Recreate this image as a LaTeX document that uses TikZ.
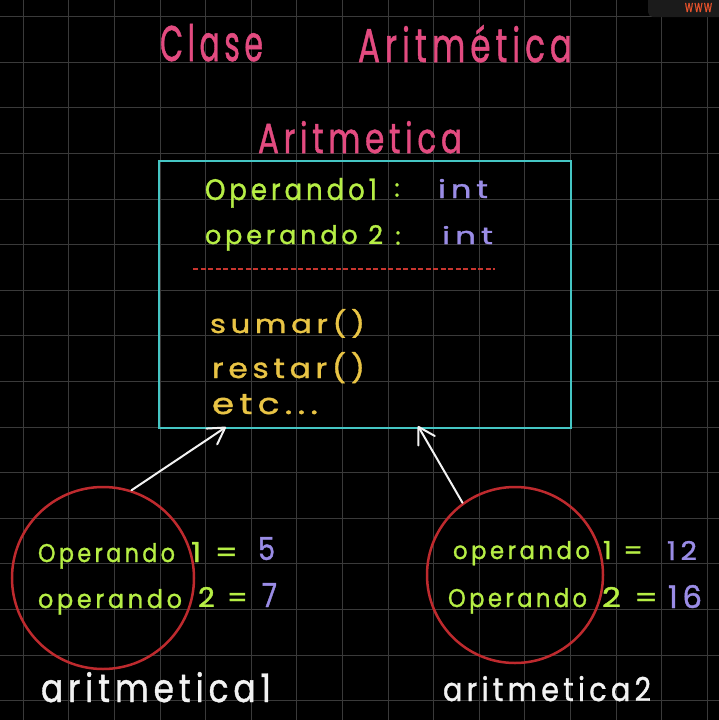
\documentclass[tikz,border=0pt]{standalone}
\usepackage{fontspec}
\setmainfont{Poppins}[LetterSpace=15, FakeBold=1.2]
\usepackage{graphicx}
\usetikzlibrary{arrows.meta}
\definecolor{gridc}{HTML}{3A3A3A}
\definecolor{pinkc}{HTML}{E34B80}
\definecolor{cyanc}{HTML}{45C6C4}
\definecolor{limec}{HTML}{B6EE45}
\definecolor{purpc}{HTML}{9A8CE6}
\definecolor{yellc}{HTML}{E9C445}
\definecolor{redc}{HTML}{BE2A2E}
\definecolor{dashc}{HTML}{C8352F}
\definecolor{whitec}{HTML}{F2F2F2}
\definecolor{tabc}{HTML}{1B1B1B}
\definecolor{orangec}{HTML}{E9532C}
\newcommand\hw[3]{\resizebox{#1pt}{#2pt}{\fontsize{\dimexpr #2pt*135/100\relax}{0pt}\selectfont #3}}
\begin{document}
\begin{tikzpicture}[x=1pt,y=-1pt,
  txt/.style={anchor=base west, inner sep=0pt, outer sep=0pt},
  gridline/.style={gridc, line width=1pt},
  arr/.style={whitec, line width=2pt, line cap=round,
    -{Straight Barb[length=16pt,width=19pt,line width=2pt,round]}},
  ring/.style={circle, draw=redc, line width=2.5pt, inner sep=0pt}]
\fill[black] (0,0) rectangle (719,720);
\useasboundingbox (0,0) rectangle (719,720);
% grid
\foreach \i in {0,...,15} {
  \draw[gridline] ({23.2+45.6*\i},0) -- ++(0,720);
  \draw[gridline] (0,{16.6+45.6*\i}) -- ++(719,0);
}
% top-right tab
\fill[tabc, rounded corners=5pt] (648,-10) rectangle (730,17);
\node[txt, text=orangec] (www) at (685,12) {\hw{27}{9}{www}};
% titles
\node[txt, text=pinkc] (t1) at (160,61) {\hw{103}{37}{Clase}};
\node[txt, text=pinkc] (t2) at (358,62) {\hw{214}{37}{Aritmética}};
\node[txt, text=pinkc] (t3) at (258,153) {\hw{204}{32}{Aritmetica}};
% class box
\node[draw=cyanc, line width=2pt, minimum width=412pt, minimum height=267pt,
  inner sep=0pt, anchor=north west] (cls) at (158,160) {};
\node[txt, text=limec] (a1) at (205,200) {\hw{172}{22}{Operando1}};
\node[inner sep=0pt, text=limec] (c1) at (397,190) {\fontsize{24}{0}\selectfont :};
\node[txt, text=purpc] (i1) at (438,198) {\hw{50}{19}{int}};
\node[txt, text=limec] (a2) at (205,244) {\hw{178}{19}{operando 2}};
\node[inner sep=0pt, text=limec] (c2) at (398,238) {\fontsize{24}{0}\selectfont :};
\node[txt, text=purpc] (i2) at (442,244) {\hw{51}{18}{int}};
\draw[dashc, line width=1.5pt, dash pattern=on 5pt off 2.5pt] (193,269) -- (495,269);
\node[txt, text=yellc] (m1) at (210,333) {\hw{155}{24}{sumar()}};
\node[txt, text=yellc] (m2) at (212,378) {\hw{153}{26}{restar()}};
\node[txt, text=yellc] (m3) at (212,414) {\hw{106}{20}{etc...}};
% objects
\node[ring, minimum size=182pt] (o1) at (103,578) {};
\node[ring, minimum size=176pt] (o2) at (515,575) {};
\node[txt, text=limec] (l1) at (38,562) {\hw{137}{19}{Operando}};
\node[txt, text=limec] (l1b) at (191,562) {\hw{47}{20}{1 =}};
\node[txt, text=purpc] (l1c) at (258,560) {\hw{17}{23}{5}};
\node[txt, text=limec] (l2) at (38,608) {\hw{144}{19}{operando}};
\node[txt, text=limec] (l2b) at (198,607) {\hw{50}{20}{2 =}};
\node[txt, text=purpc] (l2c) at (262,607) {\hw{15}{24}{7}};
\node[txt, text=limec] (r1) at (453,559) {\hw{137}{18}{operando}};
\node[txt, text=limec] (r1b) at (603,559) {\hw{40}{18}{1 =}};
\node[txt, text=purpc] (r1c) at (667,560) {\hw{30}{19}{12}};
\node[txt, text=limec] (r2) at (448,607) {\hw{139}{19}{Operando}};
\node[txt, text=limec] (r2b) at (602,607) {\hw{56}{20}{2 =}};
\node[txt, text=purpc] (r2c) at (668,608) {\hw{34}{23}{16}};
\node[txt, text=whitec] (b1) at (41,702) {\hw{230}{30}{aritmetica1}};
\node[txt, text=whitec] (b2) at (443,701) {\hw{208}{25}{aritmetica2}};
% arrows
\coordinate (h1) at (226,427);
\coordinate (h2) at (418,426);
\draw[arr] (o1.72) -- (h1);
\draw[arr] (o2.126) -- (h2);
\end{tikzpicture}
\end{document}
